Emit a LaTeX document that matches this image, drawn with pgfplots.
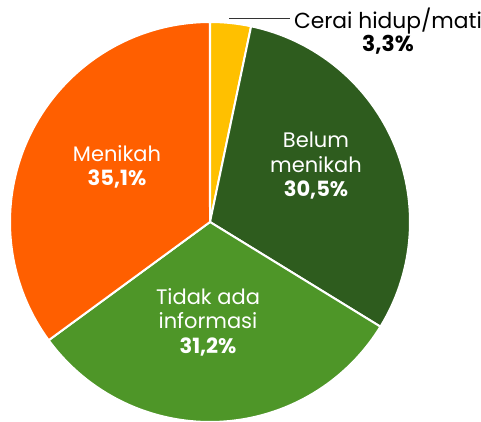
\documentclass[border=0pt]{standalone}
\usepackage{pgfplots}
\pgfplotsset{compat=1.18}
\usepackage{pgfplotstable}
\usepackage{fontspec}
\setmainfont{Poppins}
\definecolor{cYel}{HTML}{FFC000}
\definecolor{cDark}{HTML}{2E5C1E}
\definecolor{cGreen}{HTML}{4E9628}
\definecolor{cOrange}{HTML}{FF5F00}
\pgfplotstableread{
label value
Cerai 3.3
Belum 30.5
Tidak 31.2
Menikah 35.1
}\piedata
\pgfplotstablegetelem{0}{value}\of\piedata \let\vA\pgfplotsretval
\pgfplotstablegetelem{1}{value}\of\piedata \let\vB\pgfplotsretval
\pgfplotstablegetelem{2}{value}\of\piedata \let\vC\pgfplotsretval
\pgfplotstablegetelem{3}{value}\of\piedata \let\vD\pgfplotsretval
\pgfmathsetmacro\vSum{\vA+\vB+\vC+\vD}
\pgfmathsetmacro\aA{0}
\pgfmathsetmacro\aB{\aA+360*\vA/\vSum}
\pgfmathsetmacro\aC{\aB+360*\vB/\vSum}
\pgfmathsetmacro\aD{\aC+360*\vC/\vSum}
\pgfmathsetmacro\aE{360}
\begin{document}
\begin{tikzpicture}
\begin{axis}[
  x=1pt, y=1pt,
  xmin=-210, xmax=271, ymin=-200, ymax=222,
  hide axis, clip=false,
]
\addplot[fill=cYel, draw=white, line width=2pt, line join=round, domain=\aA:\aB, samples=20, variable=\t] ({200*sin(t)},{200*cos(t)}) -- (axis cs:0,0) -- cycle;
\addplot[fill=cDark, draw=white, line width=2pt, line join=round, domain=\aB:\aC, samples=80, variable=\t] ({200*sin(t)},{200*cos(t)}) -- (axis cs:0,0) -- cycle;
\addplot[fill=cGreen, draw=white, line width=2pt, line join=round, domain=\aC:\aD, samples=80, variable=\t] ({200*sin(t)},{200*cos(t)}) -- (axis cs:0,0) -- cycle;
\addplot[fill=cOrange, draw=white, line width=2pt, line join=round, domain=\aD:\aE, samples=80, variable=\t] ({200*sin(t)},{200*cos(t)}) -- (axis cs:0,0) -- cycle;
\draw[black!80, line width=0.9pt] (axis cs:19,204) -- (axis cs:80,204);
\node[align=center, text=black, font=\fontsize{21.8}{24}\selectfont] at (axis cs:178,191) {Cerai hidup/mati\\[-1pt]\textbf{3,3\%}};
\node[align=center, text=white, font=\fontsize{21}{24.5}\selectfont] at (axis cs:-93,55) {Menikah\\\textbf{35,1\%}};
\node[align=center, text=white, font=\fontsize{21}{24.5}\selectfont] at (axis cs:106,56) {Belum\\menikah\\\textbf{30,5\%}};
\node[align=center, text=white, font=\fontsize{21}{24.5}\selectfont] at (axis cs:-2,-100) {Tidak ada\\informasi\\\textbf{31,2\%}};
\end{axis}
\pgfresetboundingbox
\path (current axis.south west) rectangle (current axis.north east);
\end{tikzpicture}
\end{document}
